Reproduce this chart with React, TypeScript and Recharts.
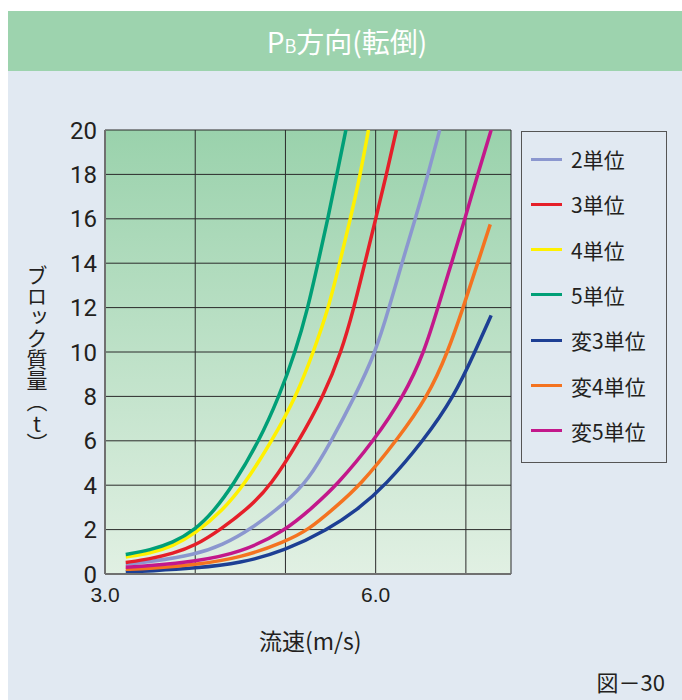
import React from "react";
import {
  CartesianGrid,
  Line,
  LineChart,
  XAxis,
  YAxis,
} from "recharts";

// speed (m/s) / block mass (t), one pair of arrays per curve
const speed2 = [3.23, 3.5, 4.0, 4.3, 4.61, 5.0, 5.25, 5.51, 5.77, 6.0, 6.15, 6.29, 6.44, 6.58, 6.71];
const mass2 = [0.44, 0.55, 0.87, 1.3, 2.0, 3.2, 4.2, 6.0, 8.0, 10.0, 12.0, 14.0, 16.0, 18.0, 20.0];

const speed3 = [3.23, 3.5, 3.75, 4.0, 4.28, 4.6, 4.84, 5.15, 5.42, 5.62, 5.76, 5.88, 6.0, 6.12, 6.23];
const mass3 = [0.52, 0.68, 0.92, 1.28, 2.0, 3.0, 4.0, 6.0, 8.0, 10.0, 12.0, 14.0, 16.0, 18.0, 20.0];

const speed4 = [3.23, 3.5, 3.75, 4.0, 4.3, 4.54, 4.85, 5.12, 5.31, 5.48, 5.6, 5.72, 5.83, 5.92];
const mass4 = [0.77, 0.93, 1.25, 1.82, 2.85, 4.0, 6.0, 8.0, 10.0, 12.0, 14.0, 16.0, 18.0, 20.0];

const speed5 = [3.23, 3.5, 3.75, 4.0, 4.2, 4.42, 4.71, 4.93, 5.11, 5.25, 5.36, 5.47, 5.57, 5.67];
const mass5 = [0.88, 1.08, 1.4, 2.0, 2.8, 4.0, 6.0, 8.0, 10.0, 12.0, 14.0, 16.0, 18.0, 20.0];

const speedV3 = [3.23, 3.5, 4.0, 4.5, 5.0, 5.47, 5.8, 6.11, 6.53, 6.87, 7.1, 7.28];
const massV3 = [0.09, 0.14, 0.26, 0.48, 1.06, 2.0, 2.9, 4.0, 6.0, 8.0, 10.0, 11.65];

const speedV4 = [3.23, 3.5, 4.0, 4.5, 5.0, 5.26, 5.55, 5.83, 6.23, 6.58, 6.8, 6.97, 7.13, 7.27];
const massV4 = [0.21, 0.24, 0.42, 0.72, 1.46, 2.0, 3.0, 4.0, 6.0, 8.0, 10.0, 12.0, 14.0, 15.75];

const speedV5 = [3.23, 3.5, 4.0, 4.5, 5.0, 5.3, 5.57, 5.98, 6.31, 6.54, 6.69, 6.84, 6.99, 7.13, 7.28];
const massV5 = [0.3, 0.37, 0.57, 0.95, 1.95, 3.0, 4.0, 6.0, 8.0, 10.0, 12.0, 14.0, 16.0, 18.0, 20.0];

const xTicks = [3, 4, 5, 6, 7, 7.5];
const xLabelled = [3, 6];
const yTicks = [0, 2, 4, 6, 8, 10, 12, 14, 16, 18, 20];

const toPoints = (xs: number[], ys: number[]) =>
  xs.map((v, i) => ({ v, w: ys[i] }));

const series = [
  { name: "2単位", color: "#8b97cf", data: toPoints(speed2, mass2) },
  { name: "3単位", color: "#e51f29", data: toPoints(speed3, mass3) },
  { name: "4単位", color: "#fff100", data: toPoints(speed4, mass4) },
  { name: "5単位", color: "#009f77", data: toPoints(speed5, mass5) },
  { name: "変3単位", color: "#1d3f94", data: toPoints(speedV3, massV3) },
  { name: "変4単位", color: "#f47320", data: toPoints(speedV4, massV4) },
  { name: "変5単位", color: "#c3188b", data: toPoints(speedV5, massV5) },
];

const jp = '"Noto Sans CJK JP", "Noto Sans", sans-serif';
const ink = "#231f20";

export default function App() {
  return (
    <div
      style={{
        position: "absolute",
        left: 8,
        top: 11,
        width: 674,
        height: 689,
        overflow: "hidden",
        background: "#e1e9f2",
        fontFamily: jp,
        color: ink,
      }}
    >
      <svg width={0} height={0} style={{ position: "absolute" }}>
        <defs>
          <linearGradient id="plotBg" x1="0" y1="0" x2="0" y2="1">
            <stop offset="0%" stopColor="#9ad2ac" />
            <stop offset="100%" stopColor="#e1f0e3" />
          </linearGradient>
        </defs>
      </svg>

      {/* header */}
      <div
        style={{
          height: 60,
          background: "#9dd3ae",
          color: "#fff",
          display: "flex",
          alignItems: "center",
          justifyContent: "center",
          fontSize: 28,
        }}
      >
        <span style={{ marginLeft: 4 }}>
          P<span style={{ fontSize: 18 }}>B</span>方向(転倒)
        </span>
      </div>

      <div style={{ position: "absolute", left: 0, top: 0 }}>
        <LineChart
          width={674}
          height={689}
          margin={{ top: 119, right: 171, bottom: 96, left: 57 }}
        >
          <CartesianGrid
            stroke="#2b2b2b"
            strokeWidth={1}
            fill="url(#plotBg)"
            fillOpacity={1}
          />
          <XAxis
            type="number"
            dataKey="v"
            domain={[3, 7.5]}
            ticks={xTicks}
            tickFormatter={(v: number) =>
              xLabelled.includes(v) ? v.toFixed(1) : ""
            }
            axisLine={{ stroke: "#707070", strokeWidth: 2 }}
            tickLine={false}
            tickMargin={7}
            height={30}
            tick={{ fill: ink, fontSize: 21, fontFamily: '"Liberation Sans", Roboto, sans-serif' }}
            allowDataOverflow
          />
          <YAxis
            type="number"
            domain={[0, 20]}
            ticks={yTicks}
            axisLine={{ stroke: "#707070", strokeWidth: 2 }}
            tickLine={false}
            width={40}
            tick={{ fill: ink, fontSize: 24, fontFamily: '"Liberation Sans Narrow", Roboto, sans-serif' }}
            allowDataOverflow
          />
          {series.map((s) => (
            <Line
              key={s.name}
              data={s.data}
              dataKey="w"
              name={s.name}
              type="basis"
              stroke={s.color}
              strokeWidth={3.5}
              dot={false}
              activeDot={false}
              isAnimationActive={false}
            />
          ))}
        </LineChart>
      </div>

      {/* y axis title */}
      <div
        style={{
          position: "absolute",
          left: 18,
          top: 254,
          writingMode: "vertical-rl",
          fontSize: 21,
          lineHeight: "22px",
        }}
      >
        ブロック質量（<span style={{ textCombineUpright: "all" }}>t</span>）
      </div>

      {/* x axis title */}
      <div
        style={{
          position: "absolute",
          left: 251,
          top: 614,
          fontSize: 23,
          lineHeight: "30px",
        }}
      >
        流速(m/s)
      </div>

      {/* legend */}
      <div
        style={{
          position: "absolute",
          left: 513,
          top: 120,
          width: 144,
          height: 330,
          border: "1px solid #555",
        }}
      >
        {series.map((s, i) => (
          <div
            key={s.name}
            style={{
              position: "absolute",
              left: 9,
              top: 27 + i * 45.3 - 15,
              height: 30,
              display: "flex",
              alignItems: "center",
            }}
          >
            <div style={{ width: 31, height: 3, background: s.color }} />
            <span style={{ marginLeft: 9, fontSize: 21 }}>{s.name}</span>
          </div>
        ))}
      </div>

      {/* figure number */}
      <div
        style={{
          position: "absolute",
          right: 17,
          top: 655,
          fontSize: 22,
          lineHeight: "30px",
        }}
      >
        図－30
      </div>
    </div>
  );
}
